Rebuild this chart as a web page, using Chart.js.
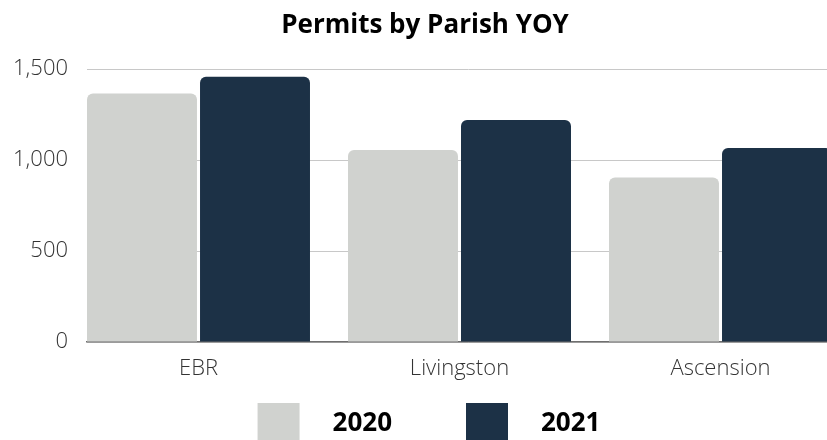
<!DOCTYPE html>
<html>
<head>
<meta charset="utf-8">
<script src="https://cdn.jsdelivr.net/npm/chart.js@4"></script>
<style>
  html, body { margin: 0; padding: 0; background: #fff; overflow: hidden; }
  #frame { width: 827px; height: 440px; overflow: hidden; }
  #wrap { position: relative; width: 850px; height: 447px; }
</style>
</head>
<body>
<div id="frame"><div id="wrap"><canvas id="chart_permitsByParish"></canvas></div></div>
<script>
// values
var categories = ['EBR', 'Livingston', 'Ascension'];
var seriesLabels = ['2020', '2021'];
var permits2020 = [1366, 1056, 905];
var permits2021 = [1458, 1221, 1067];
var yTickStep = 500;
var yMax = 1500;

var colors = ['#d0d2cf', '#1c3146'];
var FONT = "'Open Sans', 'Noto Sans', sans-serif";

// groups sit at the start of each slot, so the x axis is numeric (0,1,2 = categories)
var xMin = -0.4272;
var xMax = 2.4962;

function toPoints(values) {
    return values.map(function (v, i) { return { x: i, y: v }; });
}

// legend swatch: square drawn inside a wider transparent image
function swatch(color) {
    var c = document.createElement('canvas');
    c.width = 70;
    c.height = 42;
    var g = c.getContext('2d');
    g.fillStyle = color;
    g.fillRect(8, 0, 42, 42);
    return c;
}
var swatches = colors.map(swatch);

var chart_permitsByParish = new Chart(document.getElementById('chart_permitsByParish'), {
    type: 'bar',
    data: {
        datasets: [
            {
                label: seriesLabels[0],
                data: toPoints(permits2020),
                backgroundColor: colors[0],
                borderRadius: 6,
                borderWidth: 0
            },
            {
                label: seriesLabels[1],
                data: toPoints(permits2021),
                backgroundColor: colors[1],
                borderRadius: 6,
                borderWidth: 0
            }
        ]
    },
    options: {
        animation: false,
        responsive: true,
        maintainAspectRatio: false,
        categoryPercentage: 0.866,
        barPercentage: 0.973,
        layout: { padding: 0 },
        plugins: {
            title: {
                display: true,
                text: 'Permits by Parish YOY',
                color: '#000',
                font: { family: FONT, size: 26, weight: 'bold' },
                padding: { top: 10, bottom: 28 }
            },
            legend: {
                position: 'bottom',
                // empty title with negative padding pulls the row up (wide item padding otherwise pushes it down)
                title: { display: true, text: '', font: { size: 1, lineHeight: 1 }, padding: { top: -18.5, bottom: -18.5 } },
                labels: {
                    usePointStyle: true,
                    pointStyleWidth: 70,
                    padding: 66,
                    color: '#000',
                    font: { family: FONT, size: 26, weight: 'bold' },
                    generateLabels: function (chart) {
                        var items = Chart.defaults.plugins.legend.labels.generateLabels(chart);
                        items.forEach(function (it, i) { it.pointStyle = swatches[i]; });
                        return items;
                    }
                }
            },
            tooltip: { enabled: false }
        },
        scales: {
            x: {
                type: 'linear',
                offset: false,
                min: xMin,
                max: xMax,
                afterFit: function (scale) { scale.height = 39; },
                grid: { display: true, drawOnChartArea: false, drawTicks: false },
                border: { display: true, color: '#6f6f6f', width: 1.5 },
                ticks: {
                    stepSize: 1,
                    includeBounds: false,
                    autoSkip: false,
                    maxRotation: 0,
                    padding: 14,
                    color: '#333',
                    font: { family: FONT, size: 22, weight: 300 },
                    callback: function (v) { return categories[v] !== undefined ? categories[v] : ''; }
                }
            },
            y: {
                min: 0,
                max: yMax,
                afterFit: function (scale) { scale.width = 87; },
                grid: { color: '#c8c8c8', drawTicks: false },
                border: { display: false },
                ticks: {
                    stepSize: yTickStep,
                    padding: 19,
                    color: '#333',
                    font: { family: FONT, size: 22, weight: 300 }
                }
            }
        }
    }
});
</script>
</body>
</html>
